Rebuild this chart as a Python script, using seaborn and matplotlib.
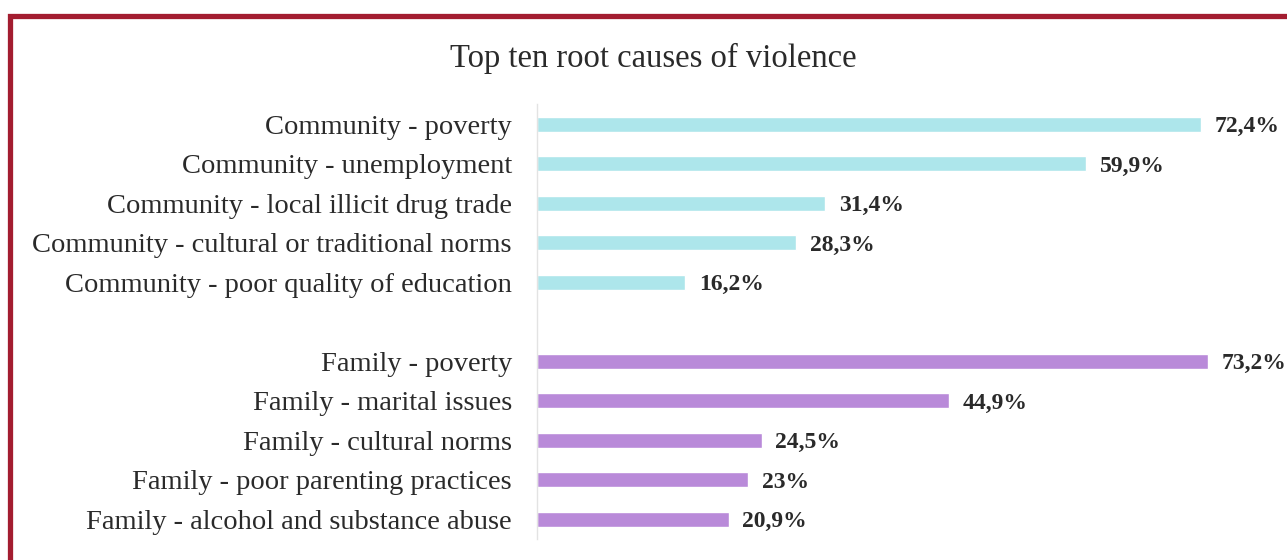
import matplotlib
matplotlib.use("Agg")
import matplotlib.pyplot as plt
from matplotlib.patches import Rectangle
import seaborn as sns
import pandas as pd

# Root causes by group, values in percent
community_causes = [
    "Community - poverty",
    "Community - unemployment",
    "Community - local illicit drug trade",
    "Community - cultural or traditional norms",
    "Community - poor quality of education",
]
community_values = [72.4, 59.9, 31.4, 28.3, 16.2]

family_causes = [
    "Family - poverty",
    "Family - marital issues",
    "Family - cultural norms",
    "Family - poor parenting practices",
    "Family - alcohol and substance abuse",
]
family_values = [73.2, 44.9, 24.5, 23.0, 20.9]

groups = ["Community", "Family"]
group_colors = {"Community": "#ade6eb", "Family": "#b98ad9"}

df = pd.DataFrame({
    "cause": community_causes + family_causes,
    "value": community_values + family_values,
    "group": [groups[0]] * len(community_causes) + [groups[1]] * len(family_causes),
})

# blank slot separates the two groups
order = community_causes + [" "] + family_causes

sns.set_theme(style="white")
plt.rcParams["font.family"] = ["Liberation Serif", "DejaVu Serif"]

fig = plt.figure(figsize=(12.87, 5.60), dpi=100)
fig.patch.set_facecolor("white")
ax = fig.add_axes([0.4172, 0.0379, 0.570, 0.7759])

sns.barplot(data=df, y="cause", x="value", hue="group", order=order,
            palette=group_colors, saturation=1, dodge=False, width=0.38,
            legend=False, orient="h", ax=ax)

ax.set_xlim(0, 80)
ax.set_ylim(len(order) - 0.5, -0.5)
ax.set_xlabel("")
ax.set_ylabel("")
ax.set_xticks([])
for side in ["top", "right", "bottom"]:
    ax.spines[side].set_visible(False)
ax.spines["left"].set_color("#e3e3e3")
ax.spines["left"].set_linewidth(1.0)
ax.tick_params(axis="y", length=0, pad=18, labelsize=20.5, labelcolor="#2a2a2a")

def fmt(v):
    s = f"{v:g}".replace(".", ",")
    return s + "%"

for _, row in df.iterrows():
    pos = order.index(row["cause"])
    ax.text(row["value"] + 1.5, pos, fmt(row["value"]), va="center_baseline",
            ha="left", fontsize=17, fontweight="bold", color="#2a2a2a",
            clip_on=False)

fig.text(0.508, 0.895, "Top ten root causes of violence", ha="center", va="center",
         fontsize=23.5, color="#2a2a2a")

# dark red frame, open on the right and bottom edges
fig.patches.append(Rectangle((9.5 / 1287, -0.1), 1.2, 1.1 - 15.5 / 560,
                             transform=fig.transFigure, fill=False,
                             edgecolor="#a31d30", linewidth=3.8, clip_on=False))

fig.savefig("out.png", dpi=100)
